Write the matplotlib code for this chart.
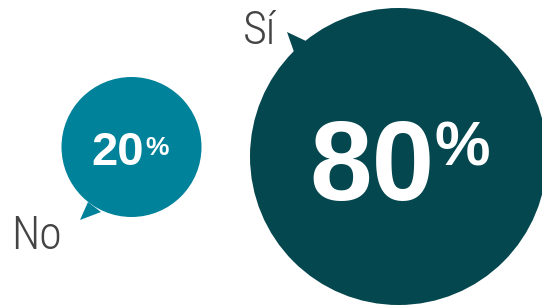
#!/usr/bin/env python3
'''
Two speech bubbles: share of "Sí" / "No" answers
'''
import matplotlib
matplotlib.use('Agg')
from matplotlib import pyplot as plt
from matplotlib.patches import Circle, Polygon

# data
labels = ['No', 'Sí']
values = [20, 80]

# layout in pixel units (figure is 542 x 306)
W, H = 542, 306
LABEL_FONT = ['Roboto Condensed', 'Liberation Sans', 'DejaVu Sans']
NUM_FONT = ['Liberation Sans', 'DejaVu Sans']
BUBBLES = [
    {'center': (131.5, 147), 'radius': 70, 'color': '#00829a',
     'tail': [(80, 220), (88, 202), (101, 212)],
     'label_xy': (11, 249), 'num_xy': (91, 165), 'num_size': 34, 'pct_size': 19,
     'pct_dx': 54, 'pct_dy': -10},
    {'center': (398.5, 156.5), 'radius': 148.5, 'color': '#04474f',
     'tail': [(287, 32), (294, 52), (306, 41)],
     'label_xy': (243, 44), 'num_xy': (309, 200), 'num_size': 81, 'pct_size': 45,
     'pct_dx': 125, 'pct_dy': -34},
]

fig = plt.figure(figsize=(W / 100, H / 100), dpi=100)
ax = fig.add_axes([0, 0, 1, 1])
ax.set_xlim(0, W)
ax.set_ylim(H, 0)
ax.set_aspect('equal')
ax.axis('off')

for label, value, b in zip(labels, values, BUBBLES):
    # bubble = tail + circle
    ax.add_patch(Polygon(b['tail'], closed=True, facecolor=b['color'], edgecolor='none'))
    ax.add_patch(Circle(b['center'], b['radius'], facecolor=b['color'], edgecolor='none'))

    # value with a raised percent sign
    x, y = b['num_xy']
    ax.text(x, y, f'{value}', color='white', fontsize=b['num_size'],
            fontweight='bold', family=NUM_FONT, ha='left', va='baseline')
    ax.text(x + b['pct_dx'], y + b['pct_dy'], '%', color='white', fontsize=b['pct_size'],
            fontweight='bold', family=NUM_FONT, ha='left', va='baseline')

    # answer label beside the tail
    lx, ly = b['label_xy']
    ax.text(lx, ly, label, color='#444444', fontsize=33, fontweight='light',
            family=LABEL_FONT, ha='left', va='baseline')

fig.savefig('out.png', dpi=100)
